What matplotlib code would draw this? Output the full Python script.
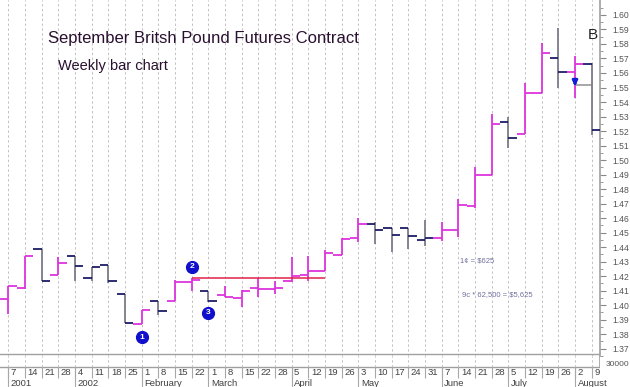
import numpy as np
import matplotlib
matplotlib.use("Agg")
import matplotlib.pyplot as plt

plt.rcParams['font.family'] = ['Liberation Sans', 'DejaVu Sans']

# weekly bars, Dec 7 2001 .. Aug 9 2002
week_days = [7, 14, 21, 28, 4, 11, 18, 25, 1, 8, 15, 22, 1, 8, 15, 22, 28, 5,
             12, 19, 26, 3, 10, 17, 24, 31, 7, 14, 21, 28, 5, 12, 19, 26, 2, 9]
month_pos = [0, 4, 8, 12, 17, 21, 26, 30, 34]
month_names = ['2001', '2002', 'February', 'March', 'April', 'May', 'June', 'July', 'August']

opens = [1.404, 1.412, 1.439, 1.421, 1.434, 1.419, 1.428, 1.408, 1.387, 1.403,
         1.403, 1.416, 1.410, 1.407, 1.405, 1.412, 1.411, 1.417, 1.4205, 1.4235,
         1.4345, 1.4465, 1.456, 1.453, 1.453, 1.445, 1.4465, 1.4515, 1.4685, 1.490,
         1.526, 1.518, 1.5465, 1.570, 1.5605, 1.566]
highs = [1.413, 1.434, 1.439, 1.433, 1.434, 1.426, 1.428, 1.408, 1.397, 1.403,
         1.4175, 1.419, 1.410, 1.4135, 1.4105, 1.419, 1.4165, 1.433, 1.434, 1.438,
         1.446, 1.460, 1.4575, 1.453, 1.453, 1.459, 1.4575, 1.473, 1.495, 1.5315,
         1.530, 1.553, 1.581, 1.591, 1.5715, 1.567]
lows = [1.394, 1.411, 1.417, 1.421, 1.417, 1.417, 1.415, 1.388, 1.387, 1.393,
        1.403, 1.4095, 1.402, 1.4055, 1.399, 1.4055, 1.408, 1.416, 1.417, 1.4235,
        1.4345, 1.4435, 1.4425, 1.437, 1.439, 1.4405, 1.444, 1.447, 1.467, 1.4895,
        1.508, 1.518, 1.5465, 1.550, 1.543, 1.517]
closes = [1.413, 1.434, 1.417, 1.429, 1.427, 1.426, 1.417, 1.388, 1.397, 1.396,
          1.416, 1.4175, 1.403, 1.4055, 1.4095, 1.411, 1.412, 1.420, 1.4235, 1.436,
          1.4455, 1.456, 1.4515, 1.4485, 1.4475, 1.4465, 1.4515, 1.469, 1.490, 1.525,
          1.5155, 1.546, 1.574, 1.561, 1.566, 1.521]

resistance = 1.419          # line from Feb 22 high
resistance_span = [11, 19]
points = [(8, 1.378, '1'), (11, 1.4266, '2'), (12, 1.3947, '3')]

W, H = 630, 387
fig = plt.figure(figsize=(W / 100, H / 100), dpi=100)
fig.patch.set_facecolor('white')

ax = fig.add_axes([0, 1 - 356 / H, 600 / W, 356 / H])
x = np.arange(len(opens))
ax.set_xlim(-0.5, 35.5)
ax.set_ylim(1.3666, 1.6103)

for xi in x:
    ax.axvline(xi, color='#c2c2c2', lw=0.7, ls=(0, (2.5, 2.5)), zorder=0)

up_col, down_tick, down_bar = '#dd33dd', '#1c1c66', '#7c7c8a'
prev = None
for i in range(len(opens)):
    up = prev is None or closes[i] >= prev
    vcol = up_col if up else down_bar
    tcol = up_col if up else down_tick
    ax.vlines(i, lows[i], highs[i], color=vcol, lw=1.3, zorder=3)
    ax.hlines(opens[i], i - 0.5, i, color=tcol, lw=1.3, zorder=3)
    ax.hlines(closes[i], i, i + 0.5, color=tcol, lw=1.3, zorder=3)
    prev = closes[i]

ax.hlines(resistance, resistance_span[0], resistance_span[1], color='#e0204a', lw=1.1, zorder=4)

for px, py, lab in points:
    ax.plot(px, py, 'o', ms=8.5, color='#1010cc', zorder=5)
    ax.text(px, py, lab, color='white', fontsize=6, fontweight='bold',
            ha='center', va='center', zorder=6)

# stop line and arrow in August
ax.hlines(1.5516, 34, 35, color='#909090', lw=1.1, zorder=2)
ax.annotate('', xy=(34, 1.549), xytext=(34, 1.5565),
            arrowprops=dict(arrowstyle='-|>', color='#1020d0', lw=2, mutation_scale=7), zorder=6)

for s in ['top', 'left', 'bottom']:
    ax.spines[s].set_visible(False)
ax.spines['right'].set_color('#a0a0a0')
ax.spines['right'].set_linewidth(1.2)
ax.axhline(ax.get_ylim()[0], color='#a0a0a0', lw=1.0)
ax.set_xticks([])
ax.yaxis.tick_right()
yt = np.round(np.arange(1.37, 1.6001, 0.01), 2)
ax.set_yticks(yt)
ax.set_yticklabels(['%.2f' % v for v in yt])
ax.set_yticks(np.round(np.arange(1.365, 1.61, 0.01), 3), minor=True)
ax.tick_params(axis='y', which='major', length=4, width=0.8, color='#888888',
               labelsize=6.2, labelcolor='#555555', pad=5)
ax.tick_params(axis='y', which='minor', length=2, width=0.6, color='#888888')

ax.text(27.1, 1.4303, '1¢ = $625', fontsize=5.5, color='#7070a0', va='center')
ax.text(27.2, 1.407, '9c * 62,500 = $5,625', fontsize=5.5, color='#7070a0', va='center')

fig.text(48 / W, 1 - 38 / H, 'September Britsh Pound Futures Contract',
         fontsize=12, color='#2a1030', va='center')
fig.text(58 / W, 1 - 66 / H, 'Weekly bar chart', fontsize=10.5, color='#2a1030', va='center')
fig.text(588 / W, 1 - 35 / H, 'B', fontsize=11, color='#222222', va='center')

# date axis
dax = fig.add_axes([0, 0, 600 / W, 31 / H])
dax.set_xlim(-0.5, 35.5)
dax.set_ylim(0, 31)
dax.axis('off')
dax.axhline(20.3, color='#a0a0a0', lw=1.0)
for xi in x:
    dax.vlines(xi, 20.3, 31, color='#c2c2c2', lw=0.7, ls=(0, (2.5, 2.5)))
    dax.vlines(xi, 9, 20.3, color='#a8a8a8', lw=0.8)
    dax.text(xi + 0.15, 14.5, str(week_days[xi]), fontsize=6.8, color='#404040', va='center')
for mp, mn in zip(month_pos, month_names):
    dax.vlines(mp, 0, 20.3, color='#a8a8a8', lw=0.8)
    dax.text(mp + 0.15, 3.8, mn, fontsize=6.8, color='#404040', va='center')
dax.vlines(35.5, 20.3, 31, color='#a0a0a0', lw=1.2)

fig.text(606 / W, 1 - 364 / H, '30000', fontsize=6, color='#555555', va='center')

fig.savefig('out.png', dpi=100)
